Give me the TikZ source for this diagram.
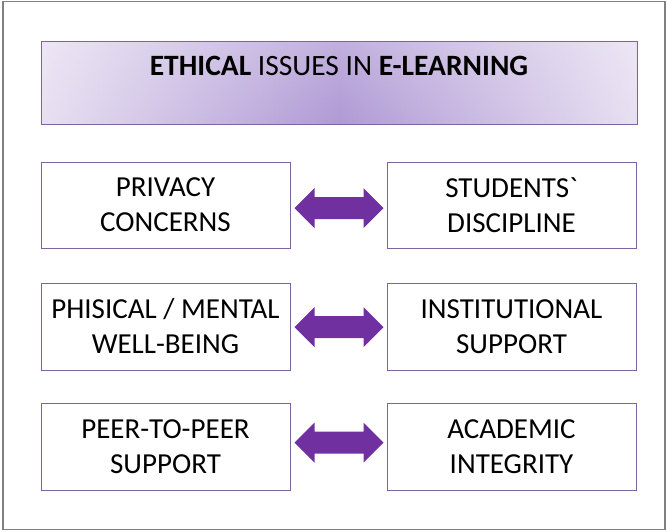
\documentclass[tikz,border=0pt]{standalone}
\usepackage{fontspec}
\newfontfamily\carl{Carlito}
\usetikzlibrary{calc,fadings}
\definecolor{boxline}{HTML}{8064A2}
\definecolor{arrowfill}{HTML}{7030A0}
\definecolor{shadeedge}{HTML}{E8E0F2}
\definecolor{shadecenter}{HTML}{B09AD5}
\definecolor{framegray}{HTML}{808080}
\tikzfading[name=topfade, top color=transparent!78, bottom color=transparent!100]
\tikzset{
  frameline/.style={draw=framegray, line width=1.3pt},
  item/.style={draw=boxline, line width=1pt, minimum width=249pt, minimum height=86pt,
    align=center, inner sep=0pt, font=\carl\fontsize{29}{35}\selectfont},
  titlebox/.style={draw=boxline, line width=1pt, minimum width=596pt, minimum height=83pt,
    inner sep=0pt,
    path picture={
      \shade[left color=shadeedge, right color=shadeedge, middle color=shadecenter]
        (path picture bounding box.south west) rectangle (path picture bounding box.north east);
      \fill[white, path fading=topfade]
        (path picture bounding box.south west) rectangle (path picture bounding box.north east);}},
  titletext/.style={font=\carl\fontsize{29.5}{34}\selectfont, inner sep=0pt},
  fatarrow/.style={fill=arrowfill, draw=none}
}
\newcommand\dblarrow[3]{%
  \fill[fatarrow] ($(#1.east)+(4,#3)$) -- ++(20,-20) -- ++(0,9) -- ++(49,0) -- ++(0,-9) -- ++(20,20)
    -- ++(-20,20) -- ++(0,-9) -- ++(-49,0) -- ++(0,9) -- cycle;}
\begin{document}
\begin{tikzpicture}[x=1pt,y=-1pt]
\useasboundingbox (0,0) rectangle (667,531);
\draw[frameline] (3,1.5) rectangle (665,529.5);
\node[titlebox] (tbox) at (339,82.5) {};
\node[titletext] (ttext) at (339,66) {\textbf{ETHICAL} ISSUES IN \textbf{E-LEARNING}};
\node[item] (a1) at (165.5,205) {PRIVACY\\CONCERNS};
\node[item] (b1) at (511.5,205) {STUDENTS\symbol{96}\\DISCIPLINE};
\node[item, minimum height=87pt] (a2) at (165.5,326.5) {PHISICAL / MENTAL\\WELL-BEING};
\node[item, minimum height=87pt] (b2) at (511.5,326.5) {INSTITUTIONAL\\SUPPORT};
\node[item, minimum height=87pt] (a3) at (165.5,446.5) {PEER-TO-PEER\\SUPPORT};
\node[item, minimum height=87pt] (b3) at (511.5,446.5) {ACADEMIC\\INTEGRITY};
\dblarrow{a1}{b1}{3}
\dblarrow{a2}{b2}{0.5}
\dblarrow{a3}{b3}{-4}
\end{tikzpicture}
\end{document}
